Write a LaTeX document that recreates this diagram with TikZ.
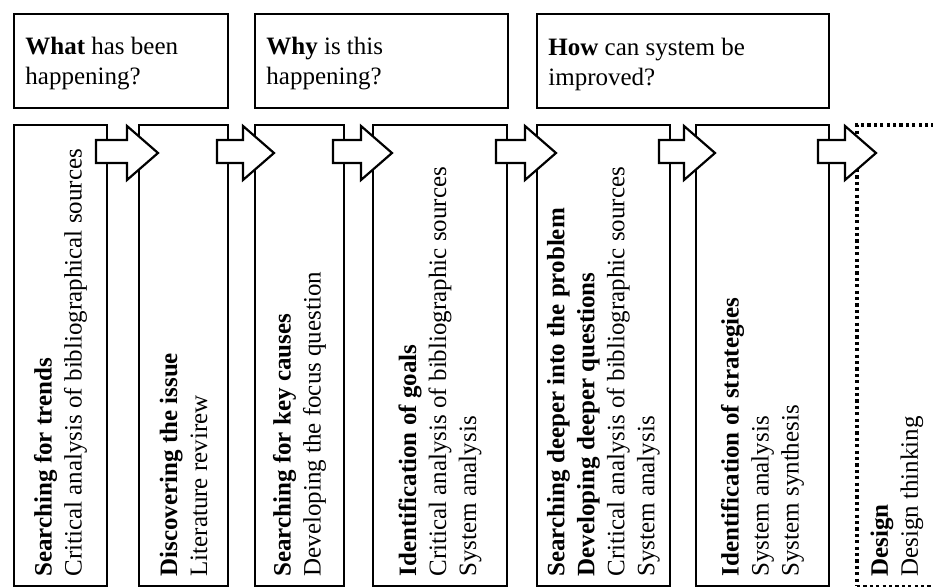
\documentclass[tikz,border=0pt]{standalone}
\usepackage{fontspec}
\setmainfont{Liberation Serif}
\usetikzlibrary{calc,fit}

% fleche blanche entre deux colonnes
\newcommand{\flechebloc}[2]{%
  \draw[fleche] ($(#1.north east)+(-11,15)$) -- ($(#2.north west)+(-12,15)$)
    -- ($(#2.north west)+(-12,1)$) -- ($(#2.north west)+(19,28)$)
    -- ($(#2.north west)+(-12,55)$) -- ($(#2.north west)+(-12,38)$)
    -- ($(#1.north east)+(-11,38)$) -- cycle;}

\begin{document}
\begin{tikzpicture}[x=0.5pt, y=-0.5pt,
    cadre/.style={draw, line width=1pt, inner sep=0pt, outer sep=0pt},
    pointille/.style={draw, line width=1.8pt, dash pattern=on 1.6pt off 1.6pt, inner sep=0pt, outer sep=0pt},
    texte/.style={inner sep=0pt, align=left, font=\fontsize{12.5}{15}\selectfont},
    vertical/.style={texte, rotate=90, anchor=west},
    fleche/.style={draw, fill=white, line width=1.1pt, line join=miter}]
		\useasboundingbox (0,0) rectangle (933,587);

		% cadres des questions
		\node[cadre, fit={(14,14) (228,108)}] (b1) {};
		\node[cadre, fit={(255,14) (508,108)}] (b2) {};
		\node[cadre, fit={(537,14) (829,108)}] (b3) {};
		\node[texte, anchor=west] (q1) at ($(b1.west)+(11,3)$) {\textbf{What} has been\\happening?};
		\node[texte, anchor=west] (q2) at ($(b2.west)+(11,3)$) {\textbf{Why} is this\\happening?};
		\node[texte, anchor=west] (q3) at ($(b3.west)+(11,3)$) {\textbf{How} can system be\\improved?};

		% colonnes
		\node[cadre, fit={(14,125) (107,586.5)}] (c1) {};
		\node[cadre, fit={(139,125) (228,586.5)}] (c2) {};
		\node[cadre, fit={(255,125) (344,586.5)}] (c3) {};
		\node[cadre, fit={(373,125) (507,586.5)}] (c4) {};
		\node[cadre, fit={(537,125) (670,586.5)}] (c5) {};
		\node[cadre, fit={(696,125) (829,586.5)}] (c6) {};
		\node[pointille, fit={(857,125) (937,586.5)}] (c7) {};

		% textes des colonnes
		\node[vertical] (t1) at ($(c1.south)+(0,-9.5)$) {\textbf{Searching for trends}\\Critical analysis of bibliographical sources};
		\node[vertical] (t2) at ($(c2.south)+(0,-9.5)$) {\textbf{Discovering the issue}\\Literature revirew};
		\node[vertical] (t3) at ($(c3.south)+(0,-9.5)$) {\textbf{Searching for key causes}\\Developing the focus question};
		\node[vertical] (t4) at ($(c4.south)+(0,-9.5)$) {\textbf{Identification of goals}\\Critical analysis of bibliographic sources\\System analysis};
		\node[vertical] (t5) at ($(c5.south)+(0,-9.5)$) {\textbf{Searching deeper into the problem}\\\textbf{Developing deeper questions}\\Critical analysis of bibliographic sources\\System analysis};
		\node[vertical] (t6) at ($(c6.south)+(0,-9.5)$) {\textbf{Identification of strategies}\\System analysis\\System synthesis};
		\node[vertical] (t7) at ($(c7.south)+(0,-9.5)$) {\textbf{Design}\\Design thinking};

		% fleches
		\flechebloc{c1}{c2}
		\flechebloc{c2}{c3}
		\flechebloc{c3}{c4}
		\flechebloc{c4}{c5}
		\flechebloc{c5}{c6}
		\flechebloc{c6}{c7}

\end{tikzpicture}
\end{document}
